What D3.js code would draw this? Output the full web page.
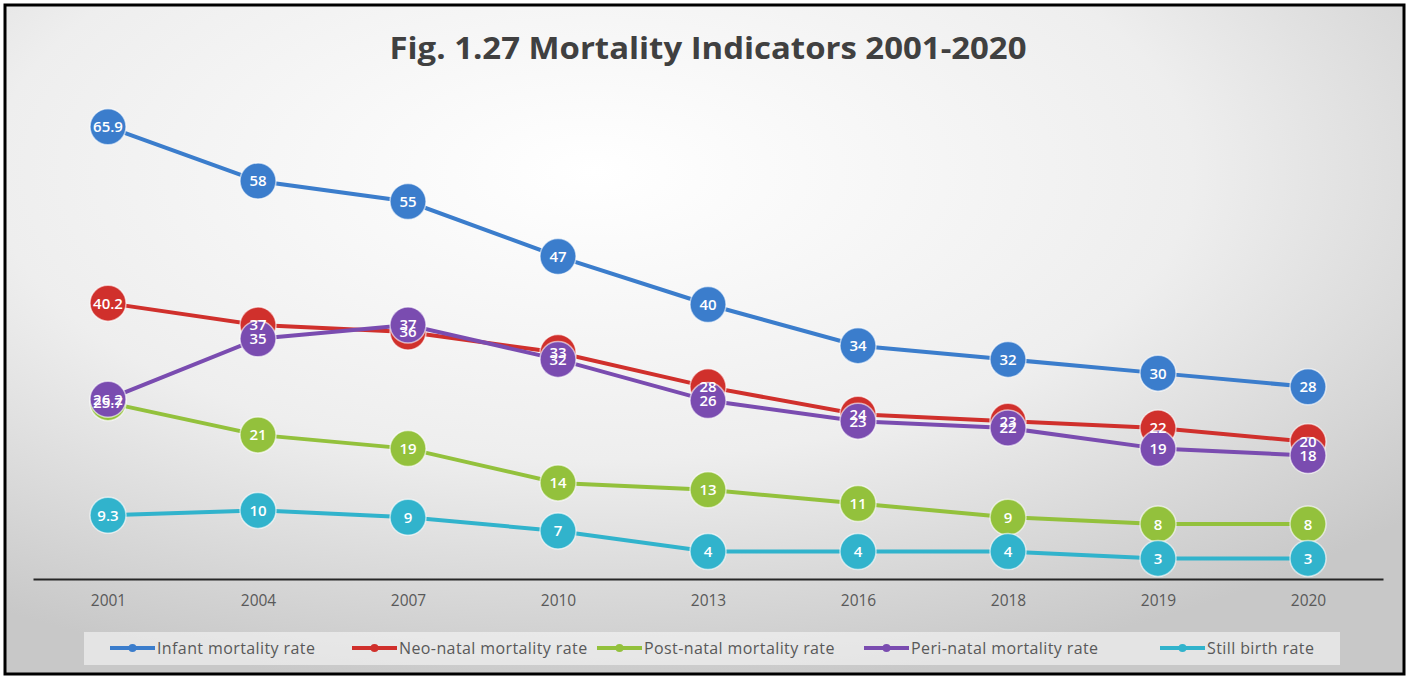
<!DOCTYPE html>
<html>
<head>
<meta charset="utf-8">
<script src="https://cdn.jsdelivr.net/npm/d3@7"></script>
<style>
  body { margin: 0; background: #fff; }
  svg { display: block; }
</style>
</head>
<body>
<script>
const years = ["2001", "2004", "2007", "2010", "2013", "2016", "2018", "2019", "2020"];
const infant = [65.9, 58, 55, 47, 40, 34, 32, 30, 28];
const neonatal = [40.2, 37, 36, 33, 28, 24, 23, 22, 20];
const postnatal = [25.7, 21, 19, 14, 13, 11, 9, 8, 8];
const perinatal = [26.2, 35, 37, 32, 26, 23, 22, 19, 18];
const stillbirth = [9.3, 10, 9, 7, 4, 4, 4, 3, 3];
const seriesNames = ["Infant mortality rate", "Neo-natal mortality rate", "Post-natal mortality rate", "Peri-natal mortality rate", "Still birth rate"];

const colors = ["#3b7dcc", "#d0302c", "#93c13c", "#7a4cb0", "#31b3cc"];
const series = [infant, neonatal, postnatal, perinatal, stillbirth].map((v, i) => ({
  name: seriesNames[i], color: colors[i], values: v
}));

const width = 1409;
const height = 679;

const svg = d3.select("body").append("svg")
  .attr("width", width)
  .attr("height", height);

// background gradient
const defs = svg.append("defs");
const grad = defs.append("radialGradient")
  .attr("id", "bg")
  .attr("cx", "42%").attr("cy", "25%").attr("r", "78%");
grad.append("stop").attr("offset", "0%").attr("stop-color", "#ffffff");
grad.append("stop").attr("offset", "55%").attr("stop-color", "#eeeeee");
grad.append("stop").attr("offset", "100%").attr("stop-color", "#c8c8c8");

svg.append("rect")
  .attr("x", 5).attr("y", 5)
  .attr("width", width - 10).attr("height", height - 10)
  .attr("fill", "url(#bg)")
  .attr("stroke", "#000")
  .attr("stroke-width", 3);

svg.append("text")
  .attr("x", 708).attr("y", 59)
  .attr("text-anchor", "middle")
  .attr("font-family", "Open Sans, sans-serif")
  .attr("font-weight", "bold")
  .attr("font-size", 30)
  .attr("fill", "#404040")
  .attr("textLength", 637)
  .attr("lengthAdjust", "spacingAndGlyphs")
  .text("Fig. 1.27 Mortality Indicators 2001-2020");

const xscale = d3.scalePoint()
  .domain(years)
  .range([33, 1383])
  .padding(0.5);

const yscale = d3.scaleLinear()
  .domain([0, 80])
  .range([579, 30]);

const xaxis = d3.axisBottom(xscale).tickSize(0).tickPadding(16);

const gx = svg.append("g")
  .attr("transform", "translate(0, 579)")
  .call(xaxis);
gx.select(".domain").attr("stroke", "#262626").attr("stroke-width", 2);
gx.selectAll("text")
  .attr("font-family", "Open Sans, sans-serif")
  .attr("font-size", 15.5)
  .attr("fill", "#595959");

const line = d3.line()
  .x((d, i) => xscale(years[i]))
  .y(d => yscale(d));

// lines and markers first
series.forEach(s => {
  const g = svg.append("g");
  g.append("path")
    .datum(s.values)
    .attr("d", line)
    .attr("fill", "none")
    .attr("stroke", s.color)
    .attr("stroke-width", 4);

  g.selectAll("circle")
    .data(s.values)
    .enter()
    .append("circle")
    .attr("cx", (d, i) => xscale(years[i]))
    .attr("cy", d => yscale(d))
    .attr("r", 18)
    .attr("fill", s.color)
    .attr("stroke", "#ffffff")
    .attr("stroke-opacity", 0.6)
    .attr("stroke-width", 1.5);
});

// data labels on top of all markers
series.forEach(s => {
  svg.append("g").selectAll("text")
    .data(s.values)
    .enter()
    .append("text")
    .attr("x", (d, i) => xscale(years[i]))
    .attr("y", d => yscale(d))
    .attr("text-anchor", "middle")
    .attr("dy", "0.36em")
    .attr("font-family", "Open Sans, sans-serif")
    .attr("font-weight", 600)
    .attr("font-size", 15)
    .attr("fill", "#ffffff")
    .text(d => d);
});

// legend
svg.append("rect")
  .attr("x", 84).attr("y", 632)
  .attr("width", 1256).attr("height", 33)
  .attr("fill", "#ffffff")
  .attr("fill-opacity", 0.5);

const legendX = [110, 352, 597, 864, 1160];
series.forEach((s, i) => {
  const g = svg.append("g").attr("transform", `translate(${legendX[i]}, 648)`);
  g.append("line")
    .attr("x1", 0).attr("x2", 45)
    .attr("stroke", s.color)
    .attr("stroke-width", 4);
  g.append("circle")
    .attr("cx", 22.5).attr("r", 4)
    .attr("fill", s.color);
  g.append("text")
    .attr("x", 47)
    .attr("dy", "0.35em")
    .attr("font-family", "Open Sans, sans-serif")
    .attr("font-size", 16)
    .attr("letter-spacing", 0.4)
    .attr("fill", "#595959")
    .text(s.name);
});
</script>
</body>
</html>
